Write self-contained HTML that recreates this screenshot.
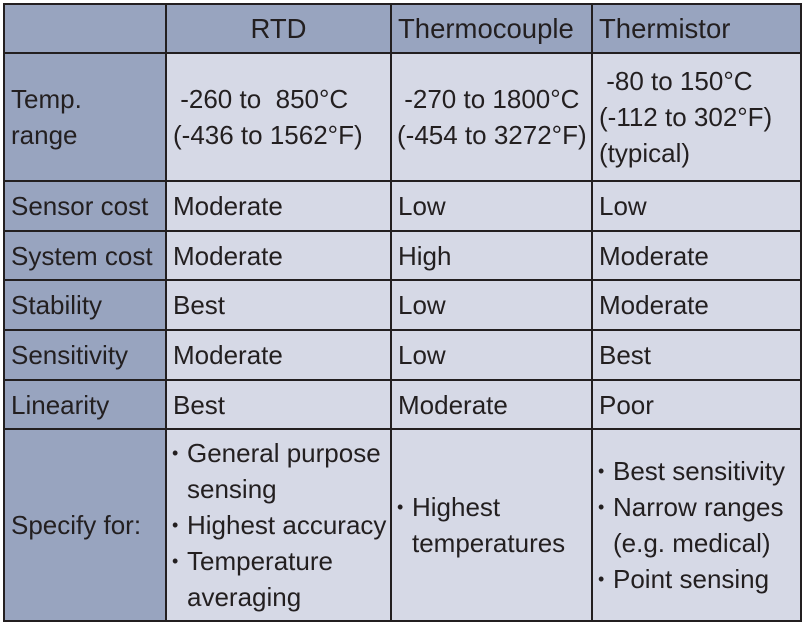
<!DOCTYPE html>
<html><head><meta charset="utf-8"><style>
body{margin:0;width:804px;height:624px;background:#fff;position:relative;overflow:hidden;font-family:"Liberation Sans",sans-serif;color:#231f20}
.c{position:absolute;box-sizing:border-box;display:flex;align-items:center;font-size:26px;line-height:36px;background:#d6d9e6;padding-left:7px;white-space:nowrap;overflow:hidden}
.h{background:#98a4bf}
.t{font-size:27.5px}
.ctr{justify-content:center;padding-left:0}
.l{position:absolute;background:#231f20}
ul{margin:0;padding:0;list-style:none}
li{padding-left:15px;text-indent:-15px;line-height:36px;height:auto}
li:before{content:"•";display:inline-block;width:15px;text-indent:0;font-size:18px;line-height:0;vertical-align:3px}
</style></head><body>
<div class="c h" style="left:4px;top:4px;width:162px;height:49px"></div>
<div class="c h ctr t" style="left:166px;top:4px;width:225px;height:49px">RTD</div>
<div class="c h t" style="left:391px;top:4px;width:201px;height:49px;padding-left:7px">Thermocouple</div>
<div class="c h t" style="left:592px;top:4px;width:208px;height:49px;padding-left:7px">Thermistor</div>

<div class="c h" style="left:4px;top:53px;width:162px;height:128px">Temp.<br>range</div>
<div class="c" style="left:166px;top:53px;width:225px;height:128px;padding-left:7px">&nbsp;-260 to &nbsp;850°C<br>(-436 to 1562°F)</div>
<div class="c" style="left:391px;top:53px;width:201px;height:128px;padding-left:6px">&nbsp;-270 to 1800°C<br>(-454 to 3272°F)</div>
<div class="c" style="left:592px;top:53px;width:208px;height:128px;padding-left:7px">&nbsp;-80 to 150°C<br>(-112 to 302°F)<br>(typical)</div>

<div class="c h" style="left:4px;top:181px;width:162px;height:50px">Sensor cost</div>
<div class="c" style="left:166px;top:181px;width:225px;height:50px">Moderate</div>
<div class="c" style="left:391px;top:181px;width:201px;height:50px">Low</div>
<div class="c" style="left:592px;top:181px;width:208px;height:50px">Low</div>

<div class="c h" style="left:4px;top:231px;width:162px;height:49px">System cost</div>
<div class="c" style="left:166px;top:231px;width:225px;height:49px">Moderate</div>
<div class="c" style="left:391px;top:231px;width:201px;height:49px">High</div>
<div class="c" style="left:592px;top:231px;width:208px;height:49px">Moderate</div>

<div class="c h" style="left:4px;top:280px;width:162px;height:50px">Stability</div>
<div class="c" style="left:166px;top:280px;width:225px;height:50px">Best</div>
<div class="c" style="left:391px;top:280px;width:201px;height:50px">Low</div>
<div class="c" style="left:592px;top:280px;width:208px;height:50px">Moderate</div>

<div class="c h" style="left:4px;top:330px;width:162px;height:50px">Sensitivity</div>
<div class="c" style="left:166px;top:330px;width:225px;height:50px">Moderate</div>
<div class="c" style="left:391px;top:330px;width:201px;height:50px">Low</div>
<div class="c" style="left:592px;top:330px;width:208px;height:50px">Best</div>

<div class="c h" style="left:4px;top:380px;width:162px;height:49px">Linearity</div>
<div class="c" style="left:166px;top:380px;width:225px;height:49px">Best</div>
<div class="c" style="left:391px;top:380px;width:201px;height:49px">Moderate</div>
<div class="c" style="left:592px;top:380px;width:208px;height:49px">Poor</div>

<div class="c h" style="left:4px;top:429px;width:162px;height:192px">Specify for:</div>
<div class="c" style="left:166px;top:429px;width:225px;height:192px;padding-left:6px"><ul><li>General purpose<br>sensing</li><li>Highest accuracy</li><li>Temperature<br>averaging</li></ul></div>
<div class="c" style="left:391px;top:429px;width:201px;height:192px;padding-left:6px"><ul><li>Highest<br>temperatures</li></ul></div>
<div class="c" style="left:592px;top:429px;width:208px;height:192px;padding-left:6px"><ul><li>Best sensitivity</li><li>Narrow ranges<br>(e.g. medical)</li><li>Point sensing</li></ul></div>

<div class="l" style="left:3px;top:3px;width:2px;height:619px"></div>
<div class="l" style="left:165px;top:3px;width:2px;height:619px"></div>
<div class="l" style="left:390px;top:3px;width:2px;height:619px"></div>
<div class="l" style="left:591px;top:3px;width:2px;height:619px"></div>
<div class="l" style="left:800px;top:3px;width:2px;height:619px"></div>
<div class="l" style="left:3px;top:3px;width:799px;height:2px"></div>
<div class="l" style="left:3px;top:52px;width:799px;height:2px"></div>
<div class="l" style="left:3px;top:180px;width:799px;height:2px"></div>
<div class="l" style="left:3px;top:230px;width:799px;height:2px"></div>
<div class="l" style="left:3px;top:279px;width:799px;height:2px"></div>
<div class="l" style="left:3px;top:329px;width:799px;height:2px"></div>
<div class="l" style="left:3px;top:379px;width:799px;height:2px"></div>
<div class="l" style="left:3px;top:428px;width:799px;height:2px"></div>
<div class="l" style="left:3px;top:620px;width:799px;height:2px"></div>
</body></html>
